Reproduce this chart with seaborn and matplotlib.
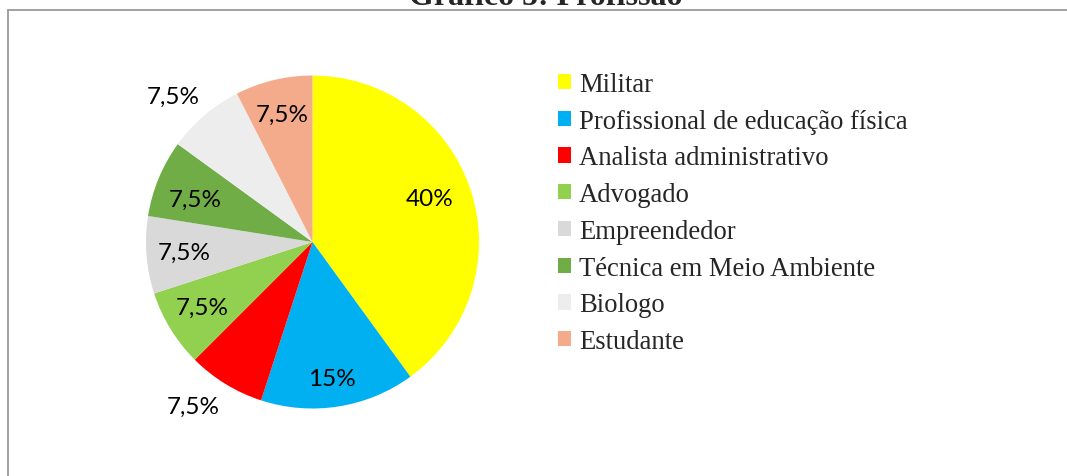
import matplotlib
matplotlib.use("Agg")
import matplotlib.pyplot as plt
import seaborn as sns
import numpy as np
from matplotlib.patches import Patch
from matplotlib.lines import Line2D

# data
profissoes = ['Militar', 'Profissional de educação física', 'Analista administrativo',
              'Advogado', 'Empreendedor', 'Técnica em Meio Ambiente', 'Biologo', 'Estudante']
percentuais = [40, 15, 7.5, 7.5, 7.5, 7.5, 7.5, 7.5]
rotulos = ['40%', '15%', '7,5%', '7,5%', '7,5%', '7,5%', '7,5%', '7,5%']
cores = ['#FFFF00', '#00B0F0', '#FF0000', '#92D050', '#D9D9D9', '#70AD47', '#EDEDED', '#F4AB8C']

sns.set_theme(style='white')
plt.rcParams['font.family'] = ['Liberation Serif', 'DejaVu Serif']

fig = plt.figure(figsize=(10.67, 4.77), dpi=100, facecolor='white')

# pie area
ax = fig.add_axes([146 / 1067, 67 / 477, 333 / 1067, 334 / 477])
wedges, _ = ax.pie(percentuais, colors=cores, startangle=90, counterclock=False,
                   radius=1, wedgeprops=dict(linewidth=0))
ax.set_xlim(-1, 1)
ax.set_ylim(-1, 1)
ax.set_aspect('equal')
ax.axis('off')

# label placement (excel "best fit"): radial distance and angle nudge
dist = [0.75, 0.83, 1.22, 0.77, 0.77, 0.75, 1.21, 0.79]
nudge = [2.5, -0.9, -4.4, -1.0, 0.0, 2.4, 3.4, 0.0]
for w, txt, d, dn in zip(wedges, rotulos, dist, nudge):
    ang = np.deg2rad((w.theta1 + w.theta2) / 2 + dn)
    ax.text(d * np.cos(ang), d * np.sin(ang), txt, ha='center', va='center',
            fontsize=17.5, family=['Lato', 'DejaVu Sans'], color='black', clip_on=False)

# legend
handles = [Patch(facecolor=c, edgecolor='none') for c in cores]
fig.legend(handles, profissoes, loc='upper left',
           bbox_to_anchor=(558 / 1067, 1 - 73 / 477), bbox_transform=fig.transFigure,
           frameon=False, fontsize=19.2, handlelength=0.5, handleheight=0.5,
           handletextpad=0.28, labelspacing=0.44, borderpad=0, borderaxespad=0)

# title (cut at top, as in the original)
fig.text(546 / 1067, 1 - 5 / 477, 'Gráfico 5: Profissão', ha='center', va='baseline',
         fontsize=23, fontweight='bold')

# chart border
fig.add_artist(Line2D([8 / 1067, 8 / 1067], [0, 1 - 11 / 477], color='#9A9A9A',
                      linewidth=1.3, transform=fig.transFigure))
fig.add_artist(Line2D([8 / 1067, 1], [1 - 11 / 477, 1 - 11 / 477], color='#9A9A9A',
                      linewidth=1.3, transform=fig.transFigure))

fig.savefig('out.png', dpi=100, facecolor='white')
